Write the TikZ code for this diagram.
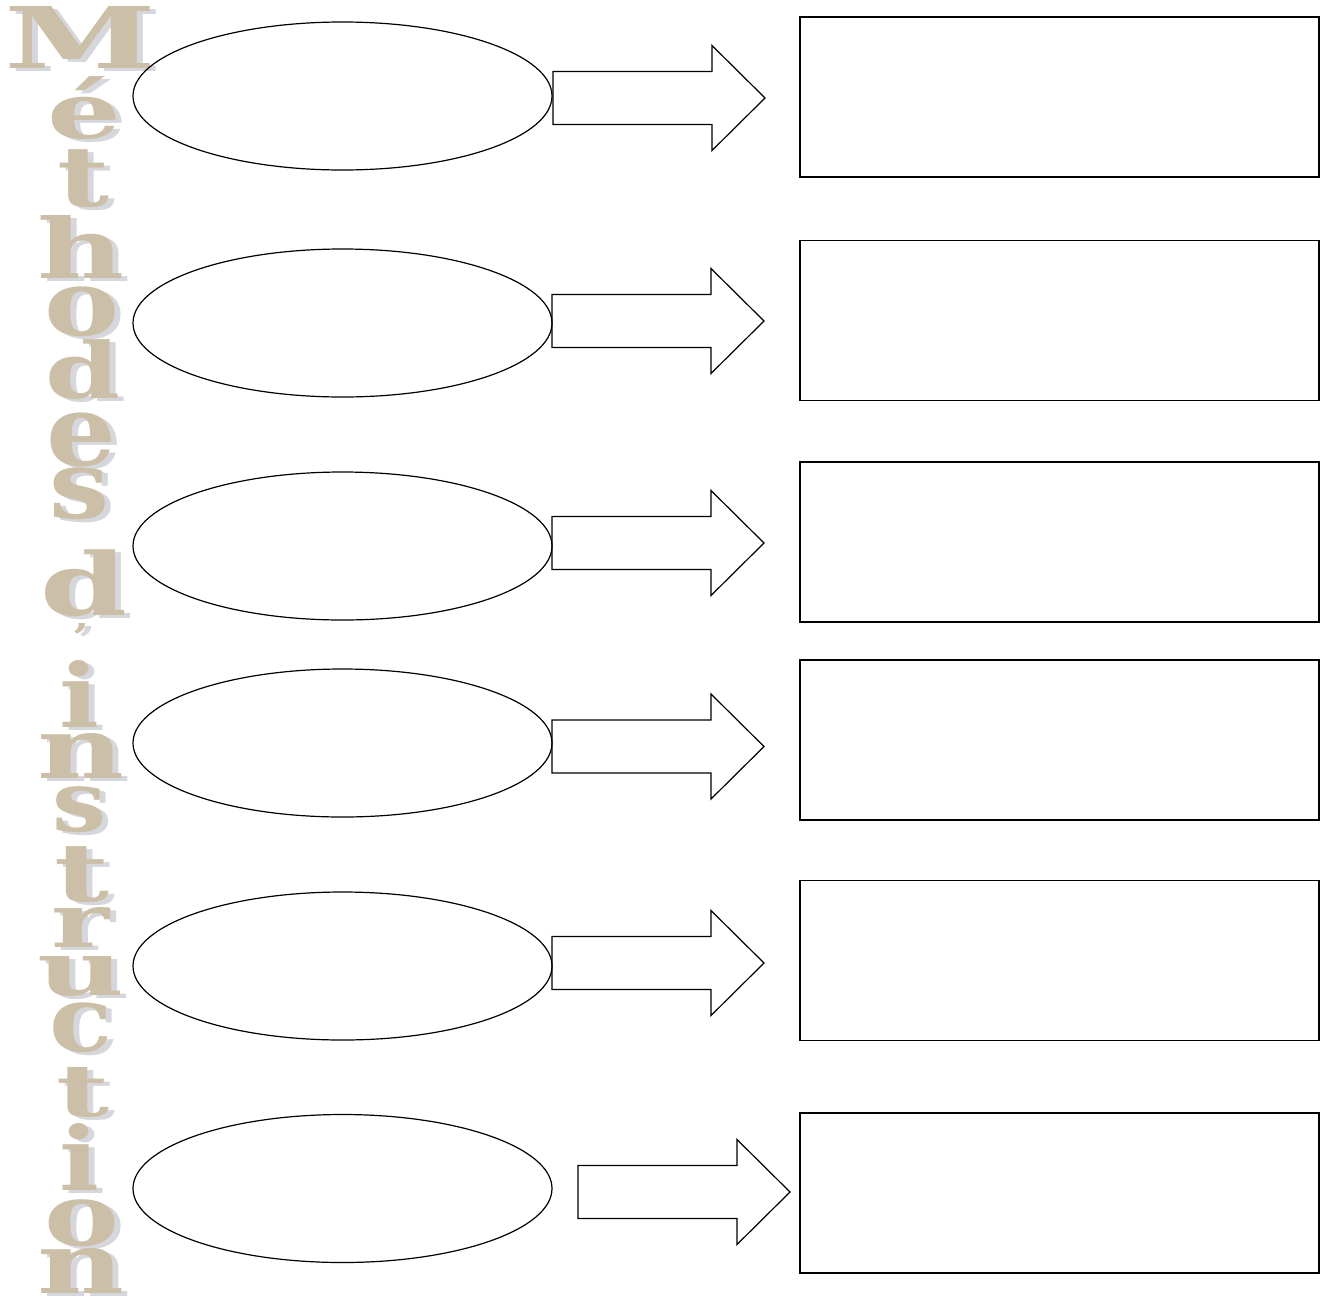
\documentclass[tikz,border=0pt]{standalone}
\usepackage{fontspec}
\newfontfamily\wordart{DejaVu Serif}
\usetikzlibrary{shapes.geometric}
\definecolor{sable}{RGB}{203,191,167}
\definecolor{grisombre}{RGB}{214,215,220}
\tikzset{
    bulle/.style={draw, ellipse, line width=1.2pt, minimum width=419pt, minimum height=148pt, inner sep=0pt},
    cadre/.style={draw, line width=1.6pt, minimum width=519pt, minimum height=160pt, inner sep=0pt},
    fleche/.style={draw, line width=1.2pt, line join=miter},
    lettre/.style={inner sep=0pt, text=sable, font=\wordart\bfseries},
    lettreombre/.style={inner sep=0pt, text=grisombre, font=\wordart\bfseries}
}
\begin{document}
\begin{tikzpicture}[x=1pt, y=-1pt]
    \path[fill=white, use as bounding box] (0,0) rectangle (1327,1299);
    % titre vertical
    \foreach \ch/\cx/\cy/\w/\h [count=\i] in {M/81/37/152/62, é/85/108.5/74/63, t/84/179/52/58,
        h/81.5/246.5/87/63, o/82.5/312/75/50, d/82.5/370/75/60, e/82/440/70/54, s/80/494/60/52,
        d/83.5/583.5/87/67, ’/81.5/636.5/17/27, i/80/693.5/40/67, n/81.5/755.5/87/45,
        s/80/810/54/46, t/82.5/875/55/56, r/81/927/58/40, u/81.5/977/87/40, c/81.5/1028/63/50,
        t/83.5/1092/53/50, i/80/1156.5/40/67, o/82.5/1223.5/75/47, n/81.5/1271/87/45} {
        \node[lettreombre] (s\i) at (\cx+6,\cy+3) {\resizebox*{\w pt}{\h pt}{\ch}};
        \node[lettre] (l\i) at (\cx,\cy) {\resizebox*{\w pt}{\h pt}{\ch}};
    }
    % ellipses et cadres
    \foreach \i/\ey/\ry in {1/96/97, 2/323/320.5, 3/546/542, 4/743/740, 5/966/960.5, 6/1188.5/1193} {
        \node[bulle] (e\i) at (342.5,\ey) {};
        \node[cadre] (r\i) at (1059.5,\ry) {};
    }
    % fleches
    \foreach \i/\ax/\ay in {1/553/98, 2/552/321, 3/552/543, 4/552/746.5, 5/552/963, 6/578/1192} {
        \coordinate (a\i) at (\ax,\ay);
        \draw[fleche] (a\i) ++(0,-26.5) -- ++(159,0) -- ++(0,-26) -- ++(53,52.5)
            -- ++(-53,52.5) -- ++(0,-26) -- ++(-159,0) -- cycle;
    }
\end{tikzpicture}
\end{document}
